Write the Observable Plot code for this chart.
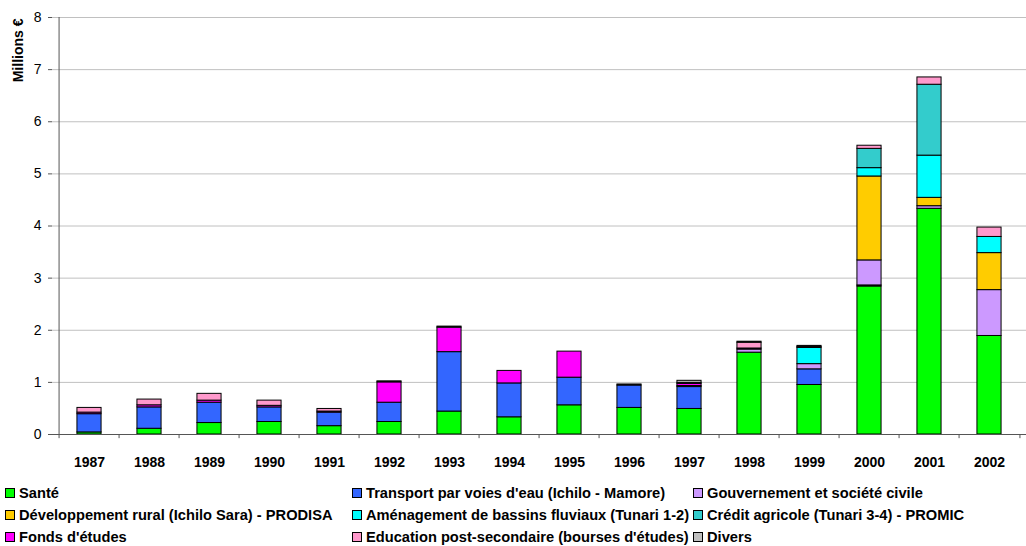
<!DOCTYPE html>
<html>
<head>
<meta charset="utf-8">
<script src="https://cdn.jsdelivr.net/npm/d3@7"></script>
<script src="https://cdn.jsdelivr.net/npm/@observablehq/plot@0.6"></script>
<style>
  body { margin: 0; background: #fff; font-family: "Liberation Sans", Arial, sans-serif; }
  #chart svg { display: block; }
  .legend { display: grid; grid-template-columns: 347px 341px auto; grid-auto-rows: 22px;
            padding-left: 5px; margin-top: 7px; font: bold 14.67px "Liberation Sans", Arial, sans-serif; color: #000; }
  .legend .item { display: flex; align-items: center; white-space: nowrap; }
  .legend .sw { width: 8px; height: 8px; border: 1px solid #000; margin-right: 4px; flex: none; }
</style>
</head>
<body>
<div id="chart"></div>
<div class="legend" id="legend"></div>
<script>
// Aide au développement par secteur, en millions d'euros
const years = ["1987","1988","1989","1990","1991","1992","1993","1994","1995","1996","1997","1998","1999","2000","2001","2002"];

const sante       = [0.04,0.11,0.22,0.24,0.16,0.24,0.44,0.33,0.56,0.51,0.49,1.57,0.95,2.84,4.33,1.89];
const transport   = [0.35,0.41,0.39,0.28,0.26,0.37,1.14,0.65,0.53,0.43,0.42,0,   0.30,0.02,0,   0];
const gouvernement= [0,   0,   0,   0,   0,   0,   0,   0,   0,   0,   0.02,0.06,0.10,0.48,0.05,0.88];
const devRural    = [0,   0,   0,   0,   0,   0,   0,   0,   0,   0,   0,   0,   0,   1.61,0.16,0.71];
const amenagement = [0,   0,   0,   0,   0,   0,   0,   0,   0,   0,   0,   0,   0.31,0.16,0.81,0.31];
const credit      = [0,   0,   0,   0,   0,   0,   0,   0,   0,   0,   0,   0,   0,   0.37,1.36,0];
const fonds       = [0.03,0.04,0.04,0.03,0.02,0.39,0.47,0.24,0.50,0,   0.04,0.02,0,   0,   0,   0];
const education   = [0.09,0.11,0.13,0.10,0.05,0,   0,   0,   0,   0,   0.02,0.11,0.02,0.06,0.14,0.18];
const divers      = [0,   0,   0,   0,   0,   0.02,0.02,0,   0,   0.02,0.04,0.02,0.02,0,   0,   0];

const seriesNames = [
  "Santé",
  "Transport par voies d'eau (Ichilo - Mamore)",
  "Gouvernement et société civile",
  "Développement rural (Ichilo Sara) - PRODISA",
  "Aménagement de bassins fluviaux (Tunari 1-2)",
  "Crédit agricole (Tunari 3-4) - PROMIC",
  "Fonds d'études",
  "Education post-secondaire (bourses d'études)",
  "Divers"
];
const seriesValues = [sante, transport, gouvernement, devRural, amenagement, credit, fonds, education, divers];
const seriesColors = ["#00ff00","#3366ff","#cc99ff","#ffcc00","#00ffff","#33cccc","#ff00ff","#ff99cc","#c0c0c0"];
const yTicks = [0,1,2,3,4,5,6,7,8];

// long table: one row per (year, series), stacked in series order
const rows = [];
years.forEach((year, i) => {
  seriesNames.forEach((name, s) => {
    const v = seriesValues[s][i];
    if (v > 0) rows.push({year, series: name, value: v});
  });
});

const W = 1026, H = 475, mL = 52, mR = 0, mT = 17, mB = 41;
const step = (W - mL - mR) / years.length;
const barInset = (step - 25) / 2;

const chart = Plot.plot({
  width: W, height: H,
  marginLeft: mL, marginRight: mR, marginTop: mT, marginBottom: mB,
  style: {fontFamily: "Liberation Sans, Arial, sans-serif", background: "#fff", overflow: "visible"},
  x: {type: "band", domain: years, padding: 0},
  y: {domain: [0, 8]},
  color: {domain: seriesNames, range: seriesColors},
  marks: [
    Plot.ruleY(yTicks.filter(d => d > 0), {stroke: "#c0c0c0", strokeWidth: 1}),
    Plot.barY(rows, Plot.stackY({
      x: "year", y: "value", fill: "series",
      stroke: "#000", strokeWidth: 1,
      insetLeft: barInset, insetRight: barInset
    })),
    // axes
    Plot.ruleY([0], {stroke: "#555"}),
    Plot.ruleX([0], {x: () => years[0], dx: -step / 2, y1: 0, y2: 8, stroke: "#555"}),
    // category boundary ticks under the baseline
    Plot.ruleX(years, {x: d => d, dx: -step / 2, y1: 0, y2: -0.08, stroke: "#555"}),
    Plot.ruleX([years[years.length - 1]], {x: d => d, dx: step / 2, y1: 0, y2: -0.08, stroke: "#555"}),
    Plot.axisY(yTicks, {tickSize: 4, tickPadding: 7, fontSize: 14, stroke: "#555", label: null, tickFormat: d => String(d)}),
    Plot.axisX(years, {tickSize: 0, tickPadding: 23, fontSize: 14, fontWeight: "bold", label: null}),
    Plot.text(["Millions €"], {
      frameAnchor: "top-left", rotate: -90, textAnchor: "end",
      dx: -39, dy: 1, fontSize: 14, fontWeight: "bold"
    })
  ]
});
document.getElementById("chart").appendChild(chart);

// legend: three columns, filled row by row
const legend = document.getElementById("legend");
seriesNames.forEach((name, i) => {
  const item = document.createElement("div");
  item.className = "item";
  const sw = document.createElement("span");
  sw.className = "sw";
  sw.style.background = seriesColors[i];
  item.appendChild(sw);
  item.appendChild(document.createTextNode(name));
  legend.appendChild(item);
});
</script>
</body>
</html>
